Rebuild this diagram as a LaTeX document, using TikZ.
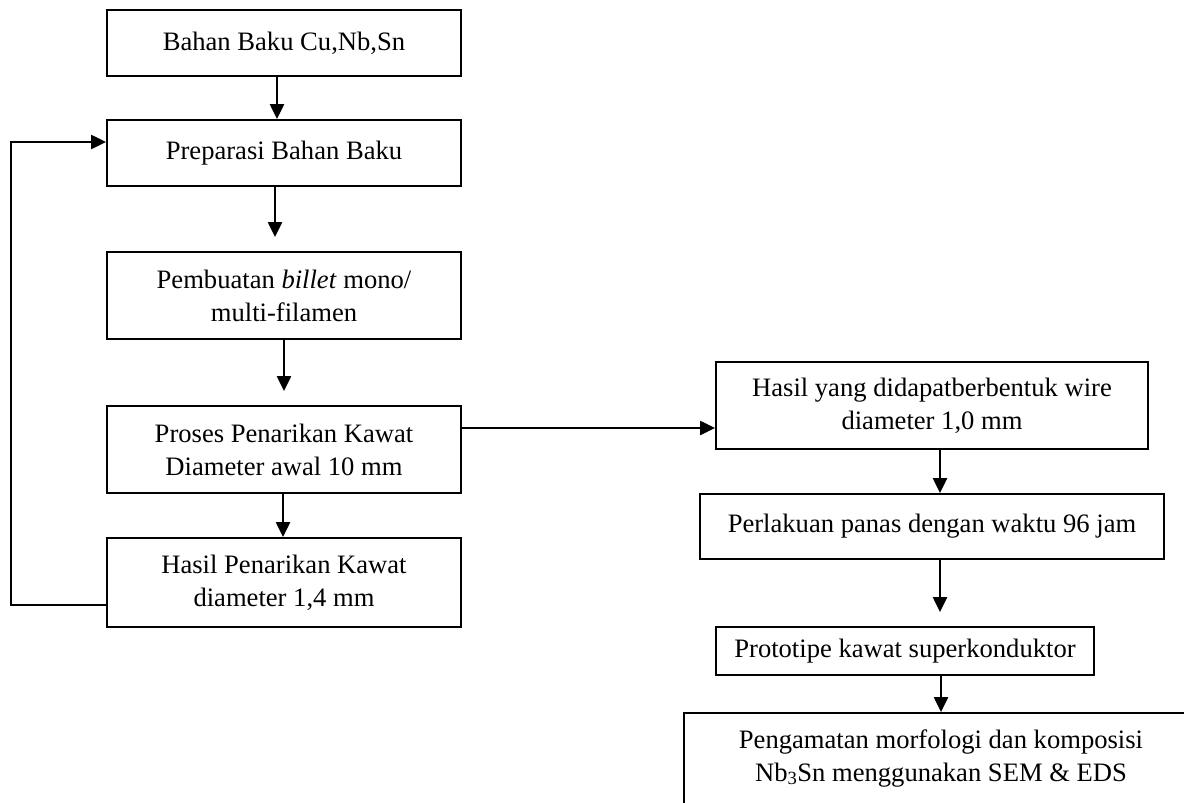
\documentclass[tikz,border=0pt]{standalone}
\usepackage{fontspec}
\setmainfont{Liberation Serif}
\usetikzlibrary{arrows.meta}
\begin{document}
\begin{tikzpicture}[x=1pt,y=-1pt,
  box/.style={draw=black,line width=1.8pt,rectangle,inner sep=0pt,align=center,
    font=\fontsize{26.6}{33}\selectfont},
  txt/.style={inner sep=0pt,align=center,font=\fontsize{26.6}{33}\selectfont},
  arr/.style={line width=2.2pt,-{Triangle[length=15pt,width=14pt]}},
  gap/.style={shorten >=14pt}]
\clip (0,0) rectangle (1184,803);
\fill[white] (0,0) rectangle (1184,803);
% left column
\node[box,minimum width=354,minimum height=66] (b1) at (284,43) {Bahan Baku Cu,Nb,Sn};
\node[box,minimum width=354,minimum height=66] (prep) at (284,153) {Preparasi Bahan Baku};
\node[box,minimum width=354,minimum height=87] (pemb) at (284,295.5) {Pembuatan \textit{billet} mono/\\multi-filamen};
\node[box,minimum width=354,minimum height=87] (pros) at (284,449.5) {Proses Penarikan Kawat\\Diameter awal 10 mm};
\node[box,minimum width=354,minimum height=89] (has) at (284,582.5) {Hasil Penarikan Kawat\\diameter 1,4 mm};
% right column
\node[box,minimum width=432,minimum height=87] (hy) at (932,405.5) {Hasil yang didapatberbentuk wire\\diameter 1,0 mm};
\node[box,minimum width=464,minimum height=65] (perl) at (932,526.5) {Perlakuan panas dengan waktu 96 jam};
\node[box,minimum width=378,minimum height=48] (proto) at (905,651) {Prototipe kawat superkonduktor};
\node[box,minimum width=516,minimum height=110] (obs) at (942,768) {};
\node[txt] (obst) at (941,758) {Pengamatan morfologi dan komposisi\\Nb\textsubscript{3}Sn menggunakan SEM \& EDS};
% connectors
\draw[arr] ([xshift=-7pt]b1.south) -- ([xshift=-7pt]prep.north);
\draw[arr,gap] ([xshift=-9pt]prep.south) -- ([xshift=-9pt]pemb.north);
\draw[arr,gap] (pemb.south) -- (pros.north);
\draw[arr] ([xshift=-1pt]pros.south) -- ([xshift=-1pt]has.north);
\coordinate (prepin) at ([yshift=11pt]prep.west);
\draw[arr] ([yshift=-22.5pt]has.west) -- ++(-95,0) |- (prepin);
\coordinate (prosout) at ([yshift=21.5pt]pros.east);
\draw[arr] (prosout) -- (prosout -| hy.west);
\draw[arr] ([xshift=8pt]hy.south) -- ([xshift=8pt]hy.south |- perl.north);
\draw[arr,gap] ([xshift=8pt]perl.south) -- ([xshift=8pt]perl.south |- proto.north);
\draw[arr] ([xshift=36pt]proto.south) -- ([xshift=36pt]proto.south |- obs.north);
\end{tikzpicture}
\end{document}
